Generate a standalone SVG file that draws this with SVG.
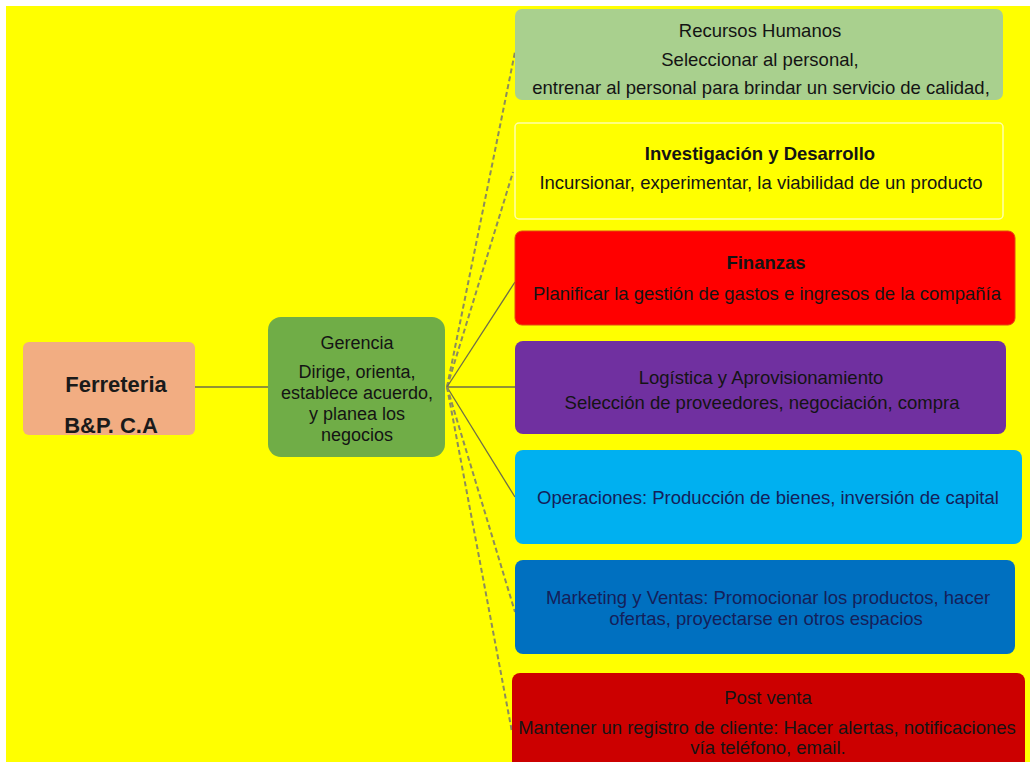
<svg xmlns="http://www.w3.org/2000/svg" width="1030" height="762" viewBox="0 0 1030 762">
<defs>
<style>
text{font-family:"Liberation Sans",Arial,sans-serif;text-anchor:middle;dominant-baseline:central;}
.t{font-size:18.5px;fill:#141414;}
.g{font-size:18px;fill:#141414;}
.b{font-weight:bold;}
.nv{fill:#14205a;}
.dash{stroke:#8c8c5c;stroke-width:2;stroke-dasharray:5 3;fill:none;}
.sol{stroke:#6e6e48;stroke-width:1.3;fill:none;}
</style>
</defs>
<rect x="0" y="0" width="1030" height="762" fill="#ffffff"/>
<rect x="6" y="6" width="1024" height="756" fill="#ffff00"/>

<g id="connectors">
<line class="sol" x1="195" y1="387" x2="268" y2="387"/>
<line class="dash" x1="447" y1="387" x2="515" y2="52"/>
<line class="dash" x1="447" y1="387" x2="513" y2="172"/>
<line class="sol" x1="447" y1="387" x2="515" y2="282"/>
<line class="sol" x1="447" y1="387" x2="515" y2="387"/>
<line class="sol" x1="447" y1="387" x2="515" y2="497"/>
<line class="dash" x1="447" y1="387" x2="515" y2="612"/>
<line class="dash" x1="447" y1="387" x2="512" y2="732"/>
</g>

<g id="ferreteria">
<rect x="23" y="342" width="172" height="93" rx="6" fill="#f2ad82"/>
<text class="b" x="116" y="384" font-size="22" fill="#1a1a1a">Ferreteria</text>
<text class="b" x="111" y="425" font-size="22" fill="#1a1a1a">B&amp;P. C.A</text>
</g>

<g id="gerencia">
<rect x="268" y="317" width="177" height="140" rx="13" fill="#70ad47"/>
<text class="g" x="357" y="343">Gerencia</text>
<text class="g" x="357" y="372">Dirige, orienta,</text>
<text class="g" x="357" y="393">establece acuerdo,</text>
<text class="g" x="357" y="414">y planea los</text>
<text class="g" x="357" y="435">negocios</text>
</g>

<g id="rrhh">
<rect x="515" y="9" width="488" height="91" rx="7" fill="#a9d08e"/>
<text class="t" x="760" y="30">Recursos Humanos</text>
<text class="t" x="760" y="59">Seleccionar al personal,</text>
<text class="t" x="761" y="87">entrenar al personal para brindar un servicio de calidad,</text>
</g>

<g id="investigacion">
<rect x="515" y="123" width="488" height="96" rx="4" fill="#ffff00" stroke="#ffffa8" stroke-width="1.5"/>
<text class="t b" x="760" y="153">Investigación y Desarrollo</text>
<text class="t" x="761" y="182">Incursionar, experimentar, la viabilidad de un producto</text>
</g>

<g id="finanzas">
<rect x="515" y="231" width="500" height="94" rx="7" fill="#ff0000" stroke="#e24a10" stroke-width="1"/>
<text class="t b" x="766" y="262">Finanzas</text>
<text class="t" x="767" y="293">Planificar la gestión de gastos e ingresos de la compañía</text>
</g>

<g id="logistica">
<rect x="515" y="341" width="491" height="93" rx="8" fill="#7030a0"/>
<text class="t" x="761" y="377" fill="#1a0f2a">Logística y Aprovisionamiento</text>
<text class="t" x="762" y="402" fill="#1a0f2a">Selección de proveedores, negociación, compra</text>
</g>

<g id="operaciones">
<rect x="515" y="450" width="507" height="94" rx="8" fill="#00b0f0"/>
<text class="t nv" x="768" y="497">Operaciones: Producción de bienes, inversión de capital</text>
</g>

<g id="marketing">
<rect x="515" y="560" width="500" height="94" rx="8" fill="#0070c0"/>
<text class="t nv" x="768" y="597">Marketing y Ventas: Promocionar los productos, hacer</text>
<text class="t nv" x="766" y="618">ofertas, proyectarse en otros espacios</text>
</g>

<g id="postventa">
<rect x="512" y="673" width="513" height="100" rx="8" fill="#cc0000"/>
<text class="t" x="768" y="697">Post venta</text>
<text class="t" x="767" y="727">Mantener un registro de cliente: Hacer alertas, notificaciones</text>
<text class="t" x="768" y="747">vía teléfono, email.</text>
</g>
</svg>
